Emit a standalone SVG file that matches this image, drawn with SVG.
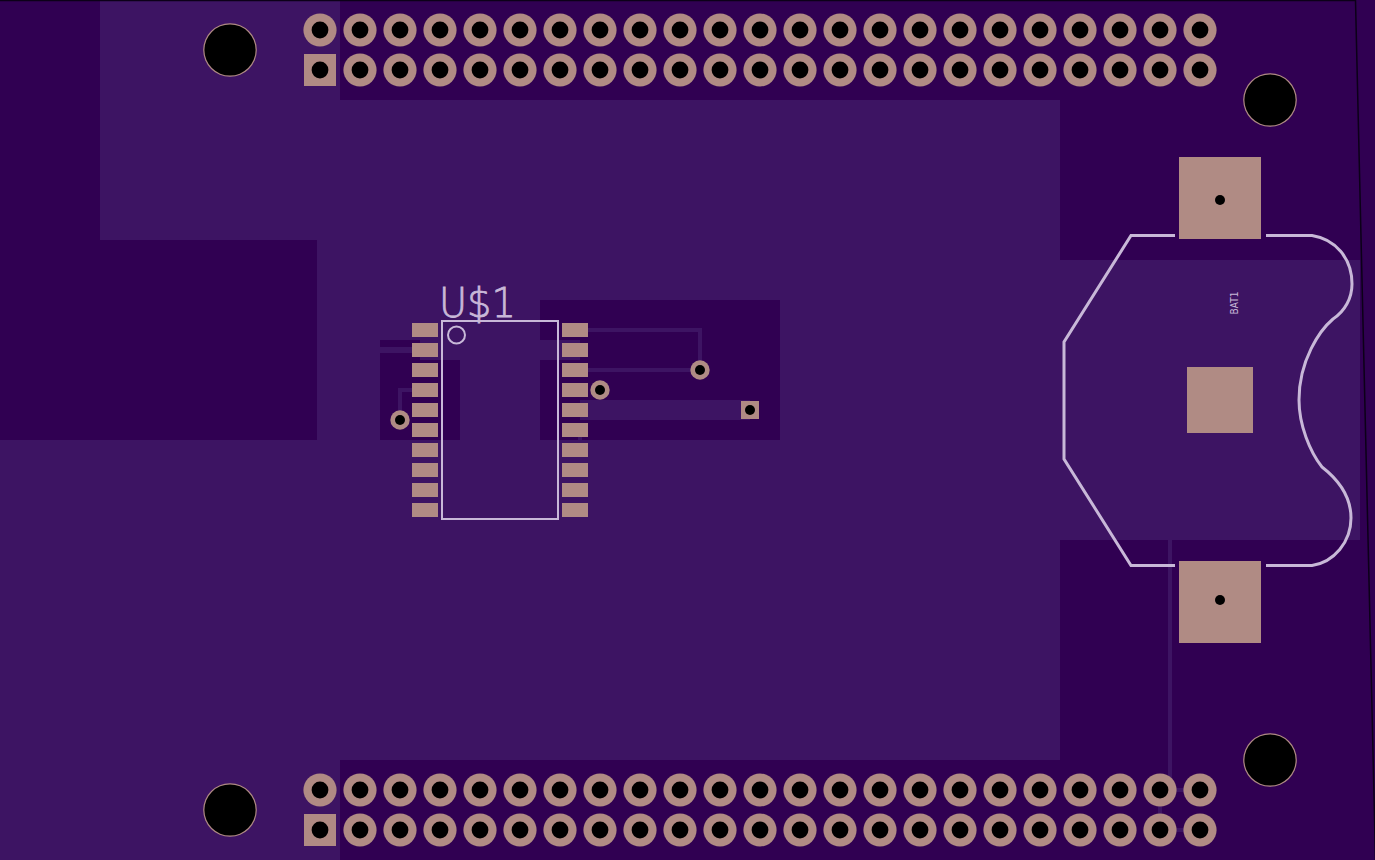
<svg xmlns="http://www.w3.org/2000/svg" width="1375" height="860" viewBox="0 0 1375 860">
<defs>
<style>
.pad{fill:#b08b84}
.hole{fill:#000}
.dark{fill:#300052}
.lite{fill:#3d1463}
.tr{fill:none;stroke:#3d1463;stroke-width:4}
.tr6{fill:none;stroke:#3d1463;stroke-width:6}
.silk{fill:none;stroke:#c8b8d8;stroke-width:2}
.silk3{fill:none;stroke:#c8b8d8;stroke-width:3}
.st{fill:#c8b8d8;font-family:"DejaVu Sans",sans-serif;font-weight:200}
</style>
<g id="th"><circle r="16.6" class="pad"/><circle r="8.4" class="hole"/></g>
<g id="sq"><rect x="-16" y="-16" width="32" height="32" class="pad"/><circle r="8.4" class="hole"/></g>
<g id="mh"><circle r="26.800" class="pad"/><circle r="25.600" class="hole"/></g>
<g id="via"><circle r="9.700" class="pad"/><circle r="5" class="hole"/></g>
<rect id="sm" x="-13" y="-7" width="26" height="14" class="pad"/>
</defs>
<rect width="1375" height="860" class="lite"/>
<g id="copper">
<rect class="dark" x="0" y="0" width="100" height="240"/>
<rect class="dark" x="0" y="240" width="317" height="200"/>
<rect class="dark" x="340" y="0" width="720" height="100"/>
<rect class="dark" x="1060" y="0" width="315" height="260"/>
<rect class="dark" x="1360" y="260" width="15" height="280"/>
<rect class="dark" x="1060" y="540" width="315" height="320"/>
<rect class="dark" x="340" y="760" width="1035" height="100"/>
<rect class="dark" x="540" y="300" width="240" height="40"/>
<rect class="dark" x="580" y="340" width="200" height="100"/>
<rect class="dark" x="540" y="360" width="40" height="80"/>
<rect class="dark" x="380" y="340" width="40" height="20"/>
<rect class="dark" x="380" y="360" width="80" height="80"/>
<rect class="lite" x="580" y="400" width="170" height="20"/>
</g>
<g id="connectors">
<path class="tr" d="M588 330H700V370"/>
<path class="tr" d="M588 370H700"/>
<path class="tr" d="M412 390H400V420"/>
<path class="tr6" d="M380 350H412"/>
<path class="tr" d="M580 430V440"/>
<path class="tr" d="M1170 540V780"/>
<path class="tr" d="M1160 790H1200M1160 790V830H1200"/>
</g>
<g id="board-edge" fill="none" stroke="#0c0018" stroke-width="1.500">
<path d="M0 .5H1355.500L1375.500 860"/>
</g>
<g id="header-top">
<use href="#th" x="320" y="30"/><use href="#th" x="360" y="30"/><use href="#th" x="400" y="30"/><use href="#th" x="440" y="30"/><use href="#th" x="480" y="30"/><use href="#th" x="520" y="30"/><use href="#th" x="560" y="30"/><use href="#th" x="600" y="30"/><use href="#th" x="640" y="30"/><use href="#th" x="680" y="30"/><use href="#th" x="720" y="30"/><use href="#th" x="760" y="30"/><use href="#th" x="800" y="30"/><use href="#th" x="840" y="30"/><use href="#th" x="880" y="30"/><use href="#th" x="920" y="30"/><use href="#th" x="960" y="30"/><use href="#th" x="1000" y="30"/><use href="#th" x="1040" y="30"/><use href="#th" x="1080" y="30"/><use href="#th" x="1120" y="30"/><use href="#th" x="1160" y="30"/><use href="#th" x="1200" y="30"/>
<use href="#sq" x="320" y="70"/><use href="#th" x="360" y="70"/><use href="#th" x="400" y="70"/><use href="#th" x="440" y="70"/><use href="#th" x="480" y="70"/><use href="#th" x="520" y="70"/><use href="#th" x="560" y="70"/><use href="#th" x="600" y="70"/><use href="#th" x="640" y="70"/><use href="#th" x="680" y="70"/><use href="#th" x="720" y="70"/><use href="#th" x="760" y="70"/><use href="#th" x="800" y="70"/><use href="#th" x="840" y="70"/><use href="#th" x="880" y="70"/><use href="#th" x="920" y="70"/><use href="#th" x="960" y="70"/><use href="#th" x="1000" y="70"/><use href="#th" x="1040" y="70"/><use href="#th" x="1080" y="70"/><use href="#th" x="1120" y="70"/><use href="#th" x="1160" y="70"/><use href="#th" x="1200" y="70"/>
</g>
<g id="header-bottom">
<use href="#th" x="320" y="790"/><use href="#th" x="360" y="790"/><use href="#th" x="400" y="790"/><use href="#th" x="440" y="790"/><use href="#th" x="480" y="790"/><use href="#th" x="520" y="790"/><use href="#th" x="560" y="790"/><use href="#th" x="600" y="790"/><use href="#th" x="640" y="790"/><use href="#th" x="680" y="790"/><use href="#th" x="720" y="790"/><use href="#th" x="760" y="790"/><use href="#th" x="800" y="790"/><use href="#th" x="840" y="790"/><use href="#th" x="880" y="790"/><use href="#th" x="920" y="790"/><use href="#th" x="960" y="790"/><use href="#th" x="1000" y="790"/><use href="#th" x="1040" y="790"/><use href="#th" x="1080" y="790"/><use href="#th" x="1120" y="790"/><use href="#th" x="1160" y="790"/><use href="#th" x="1200" y="790"/>
<use href="#sq" x="320" y="830"/><use href="#th" x="360" y="830"/><use href="#th" x="400" y="830"/><use href="#th" x="440" y="830"/><use href="#th" x="480" y="830"/><use href="#th" x="520" y="830"/><use href="#th" x="560" y="830"/><use href="#th" x="600" y="830"/><use href="#th" x="640" y="830"/><use href="#th" x="680" y="830"/><use href="#th" x="720" y="830"/><use href="#th" x="760" y="830"/><use href="#th" x="800" y="830"/><use href="#th" x="840" y="830"/><use href="#th" x="880" y="830"/><use href="#th" x="920" y="830"/><use href="#th" x="960" y="830"/><use href="#th" x="1000" y="830"/><use href="#th" x="1040" y="830"/><use href="#th" x="1080" y="830"/><use href="#th" x="1120" y="830"/><use href="#th" x="1160" y="830"/><use href="#th" x="1200" y="830"/>
</g>
<g id="holes">
<use href="#mh" x="230" y="50"/><use href="#mh" x="1270" y="100"/><use href="#mh" x="230" y="810"/><use href="#mh" x="1270" y="760"/>
</g>
<g id="vias">
<use href="#via" x="400" y="420"/><use href="#via" x="600" y="390"/><use href="#via" x="700" y="370"/>
<rect x="741" y="401" width="18" height="18" class="pad"/><circle cx="750" cy="410" r="5" class="hole"/>
</g>
<g id="U1">
<use href="#sm" x="425" y="330"/><use href="#sm" x="425" y="350"/><use href="#sm" x="425" y="370"/><use href="#sm" x="425" y="390"/><use href="#sm" x="425" y="410"/><use href="#sm" x="425" y="430"/><use href="#sm" x="425" y="450"/><use href="#sm" x="425" y="470"/><use href="#sm" x="425" y="490"/><use href="#sm" x="425" y="510"/>
<use href="#sm" x="575" y="330"/><use href="#sm" x="575" y="350"/><use href="#sm" x="575" y="370"/><use href="#sm" x="575" y="390"/><use href="#sm" x="575" y="410"/><use href="#sm" x="575" y="430"/><use href="#sm" x="575" y="450"/><use href="#sm" x="575" y="470"/><use href="#sm" x="575" y="490"/><use href="#sm" x="575" y="510"/>
<rect class="silk" x="442" y="321" width="116" height="198"/>
<circle class="silk" cx="456.500" cy="335" r="8.500"/>
<text class="st" x="439" y="317" font-size="40" stroke="#c8b8d8" stroke-width=".8" textLength="77" lengthAdjust="spacingAndGlyphs">U$1</text>
</g>
<g id="BAT1">
<rect class="pad" x="1179" y="157" width="82" height="82"/><circle class="hole" cx="1220" cy="200" r="5"/>
<rect class="pad" x="1179" y="561" width="82" height="82"/><circle class="hole" cx="1220" cy="600" r="5"/>
<rect class="pad" x="1187" y="367" width="66" height="66"/>
<path class="silk3" d="M1175 235.500H1131L1064 342V459L1131 565.500H1175"/>
<path class="silk3" d="M1266 235.500H1312C1335 239 1352 258 1352 284C1352 298 1345 311 1333 319C1320 330 1299 360 1299 400C1299 425 1310 452 1322 467C1340 481 1351 497 1351 518C1351 542 1334 562 1312 565.500H1266"/>
<text class="st" style="font-weight:400" transform="translate(1237.500 314.500) rotate(-90)" font-size="11" textLength="23" lengthAdjust="spacingAndGlyphs">BAT1</text>
</g>
</svg>
